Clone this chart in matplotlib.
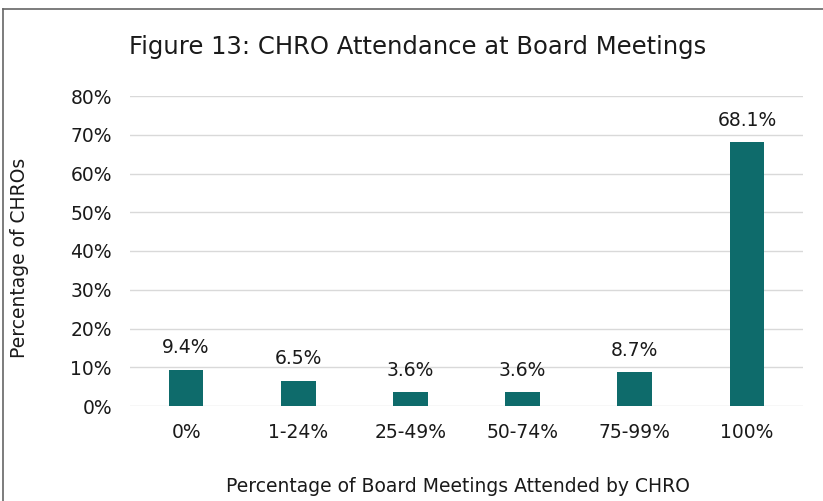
import matplotlib
matplotlib.use("Agg")
import matplotlib.pyplot as plt
from matplotlib.lines import Line2D

categories = ["0%", "1-24%", "25-49%", "50-74%", "75-99%", "100%"]
values = [9.4, 6.5, 3.6, 3.6, 8.7, 68.1]
yticks = [0, 10, 20, 30, 40, 50, 60, 70, 80]

plt.rcParams['font.family'] = ['DejaVu Sans']

W, H = 823, 501
fig = plt.figure(figsize=(W/100, H/100), dpi=100)
ax = fig.add_axes([130/W, (H-406)/H, (803-130)/W, (406-96)/H])

fs = 13.5
x = list(range(len(categories)))
ax.bar(x, values, width=0.31, color="#0e6b6b", zorder=3)
ax.set_xlim(-0.5, len(categories)-0.5)
ax.set_ylim(0, 80)
ax.set_yticks(yticks)
ax.set_yticklabels([f"{t}%" for t in yticks])
ax.set_xticks(x)
ax.set_xticklabels(categories)
ax.grid(axis='y', color="#d9d9d9", linewidth=1, zorder=0)
for s in ax.spines.values():
    s.set_visible(False)
ax.tick_params(axis='both', length=0, labelsize=fs, colors="#1a1a1a")
ax.tick_params(axis='y', pad=13)
ax.tick_params(axis='x', pad=12)

for xi, v in zip(x, values):
    ax.annotate(f"{v}%", (xi, v), xytext=(0, 9), textcoords='offset points',
                ha='center', va='bottom', fontsize=fs, color="#1a1a1a")

fig.text(418/W, 1-47/H, "Figure 13: CHRO Attendance at Board Meetings",
         ha='center', va='center', fontsize=17.5, color="#1a1a1a")
fig.text(458/W, 1-486/H, "Percentage of Board Meetings Attended by CHRO",
         ha='center', va='center', fontsize=fs, color="#1a1a1a")
fig.text(20/W, 1-258/H, "Percentage of CHROs", rotation=90,
         ha='center', va='center', fontsize=fs, color="#1a1a1a")

fig.add_artist(Line2D([3/W, 1], [1-9/H, 1-9/H], transform=fig.transFigure, color="#666666", linewidth=1.2))
fig.add_artist(Line2D([3/W, 3/W], [0, 1-9/H], transform=fig.transFigure, color="#666666", linewidth=1.2))

fig.savefig("out.png", dpi=100)
